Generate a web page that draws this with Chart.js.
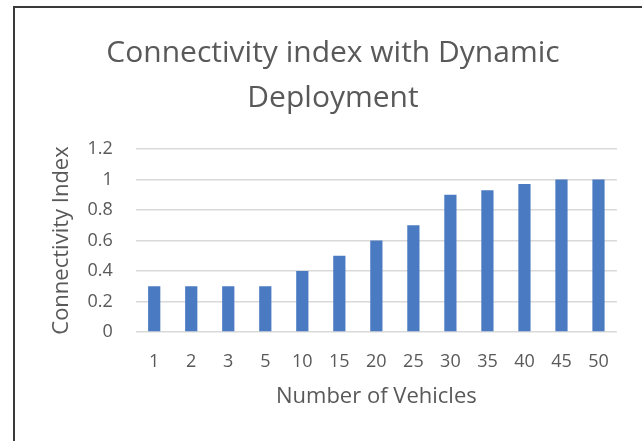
<!DOCTYPE html>
<html>
<head>
<meta charset="utf-8">
<script src="https://cdn.jsdelivr.net/npm/chart.js@4"></script>
<style>
  html, body { margin: 0; padding: 0; background: #fff; }
  #wrap { position: relative; width: 642px; height: 441px; }
  #frame {
    position: absolute; left: 13px; top: 6px; right: 0; bottom: 0;
    border-top: 2px solid #3a3a3a; border-left: 2px solid #3a3a3a;
  }
  canvas { position: absolute; left: 0; top: 0; }
</style>
</head>
<body>
<div id="wrap">
  <div id="frame"></div>
  <canvas id="chartConn" width="642" height="441"></canvas>
</div>
<script>
const vehicles = ["1", "2", "3", "5", "10", "15", "20", "25", "30", "35", "40", "45", "50"];
const connectivity = [0.3, 0.3, 0.3, 0.3, 0.4, 0.5, 0.6, 0.7, 0.9, 0.93, 0.97, 1, 1];
const yTicks = [0, 0.2, 0.4, 0.6, 0.8, 1, 1.2];

const textColor = "#595959";
const fontFamily = "'Open Sans', 'Liberation Sans', sans-serif";

const runChartConn = () => {
  const ctx = document.getElementById("chartConn").getContext("2d");
  const myChart = new Chart(ctx, {
    type: "bar",
    data: {
      labels: vehicles,
      datasets: [
        {
          label: "Connectivity Index",
          data: connectivity,
          backgroundColor: "#4a7bc2",
          borderWidth: 0,
          barPercentage: 0.33,
          categoryPercentage: 1,
        },
      ],
    },
    options: {
      responsive: false,
      animation: false,
      layout: {
        padding: { left: 49, right: 25, top: 31, bottom: 31 },
      },
      plugins: {
        legend: { display: false },
        tooltip: { enabled: false },
        title: {
          display: true,
          text: ["Connectivity index with Dynamic", "Deployment"],
          color: textColor,
          font: { family: fontFamily, size: 30, weight: "normal", lineHeight: 1.5 },
          padding: { top: 0, bottom: 28 },
        },
      },
      scales: {
        x: {
          grid: { display: false, drawTicks: false },
          border: { display: false },
          ticks: {
            color: textColor,
            font: { family: fontFamily, size: 18 },
            padding: 19,
          },
          title: {
            display: true,
            text: "Number of Vehicles",
            color: textColor,
            font: { family: fontFamily, size: 22 },
            padding: { top: -8, bottom: 0 },
          },
        },
        y: {
          min: 0,
          max: 1.2,
          afterBuildTicks: (axis) => {
            axis.ticks = yTicks.map((v) => ({ value: v }));
          },
          grid: { color: "#d9d9d9", lineWidth: 1.5, drawTicks: false },
          border: { display: false },
          ticks: {
            color: textColor,
            font: { family: fontFamily, size: 18 },
            padding: 23,
            callback: (v) => String(Math.round(v * 10) / 10),
          },
          title: {
            display: true,
            text: "Connectivity Index",
            color: textColor,
            font: { family: fontFamily, size: 22 },
            padding: { top: 0, bottom: -11 },
          },
        },
      },
    },
  });
};

runChartConn();
</script>
</body>
</html>
